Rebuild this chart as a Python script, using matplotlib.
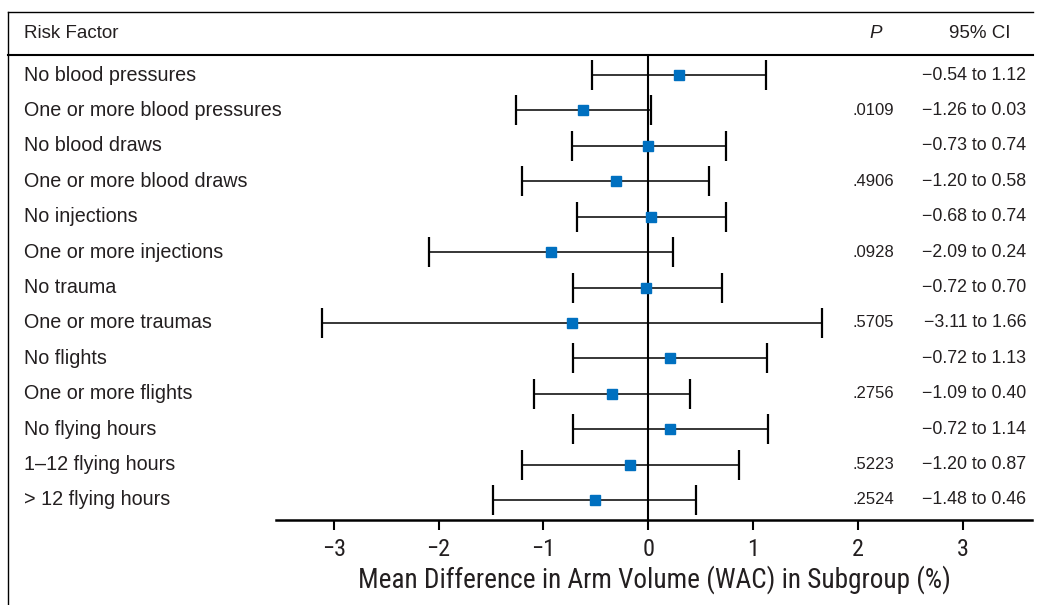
import matplotlib
matplotlib.use('Agg')
import matplotlib.pyplot as plt
from matplotlib import font_manager
from matplotlib.lines import Line2D
from matplotlib.transforms import blended_transform_factory
import numpy as np

plt.rcParams['font.family'] = ['Liberation Sans', 'DejaVu Sans']

# data
risk_factors = ['No blood pressures', 'One or more blood pressures',
                'No blood draws', 'One or more blood draws',
                'No injections', 'One or more injections',
                'No trauma', 'One or more traumas',
                'No flights', 'One or more flights',
                'No flying hours', '1\u201312 flying hours', '> 12 flying hours']
mean_diff = [0.29, -0.62, 0.00, -0.31, 0.03, -0.93, -0.02, -0.73,
             0.21, -0.35, 0.21, -0.17, -0.51]
ci_low = [-0.54, -1.26, -0.73, -1.20, -0.68, -2.09, -0.72, -3.11,
          -0.72, -1.09, -0.72, -1.20, -1.48]
ci_high = [1.12, 0.03, 0.74, 0.58, 0.74, 0.24, 0.70, 1.66,
           1.13, 0.40, 1.14, 0.87, 0.46]
p_values = ['', '.0109', '', '.4906', '', '.0928', '', '.5705',
            '', '.2756', '', '.5223', '.2524']
x_ticks = [-3, -2, -1, 0, 1, 2, 3]

# pick a narrow font for the axis if one is installed
installed = set((f.name, f.stretch) for f in font_manager.fontManager.ttflist)
installed_names = set(n for n, _ in installed)
narrow = dict(family='Roboto')
for cand in ['Liberation Sans Narrow', 'Roboto Condensed', 'Open Sans Condensed']:
    if cand in installed_names:
        narrow = dict(family=cand)
        break
else:
    if ('DejaVu Sans', 'condensed') in installed or ('DejaVu Sans', 'semi-condensed') in installed:
        narrow = dict(family='DejaVu Sans', stretch='condensed')

W, H = 1039, 605
fig = plt.figure(figsize=(W / 100, H / 100), dpi=100)
text_col = '#231f20'

ax_left, ax_right = 276 / W, 1032 / W
ax_top, ax_bot = 1 - 55 / H, 1 - 520 / H
ax = fig.add_axes([ax_left, ax_bot, ax_right - ax_left, ax_top - ax_bot])

y = np.arange(len(risk_factors))
mean_arr = np.array(mean_diff)
err = np.vstack([mean_arr - np.array(ci_low), np.array(ci_high) - mean_arr])

ax.axvline(0, color='black', lw=1.5, zorder=1)
ax.errorbar(mean_arr, y, xerr=err, fmt='none', ecolor='black',
            elinewidth=1.1, capsize=11, capthick=1.6, zorder=2)
ax.plot(mean_arr, y, 's', color='#0070c0', markersize=6.5, zorder=3)

ax.set_xlim(-3.55, 3.66)
ax.set_ylim(len(risk_factors) - 1 + 0.565, -0.565)
ax.set_yticks([])
ax.set_xticks(x_ticks)
ax.set_xticklabels(['\u2212%d' % -t if t < 0 else str(t) for t in x_ticks],
                   fontsize=17.5, color=text_col, **narrow)
ax.tick_params(axis='x', direction='out', length=7, width=1.5, pad=6)
for s in ['top', 'left', 'right']:
    ax.spines[s].set_visible(False)
ax.spines['bottom'].set_linewidth(1.8)
ax.patch.set_alpha(0)

xlab = ax.set_xlabel('Mean Difference in Arm Volume (WAC) in Subgroup (%)',
                     fontsize=19, color=text_col, labelpad=3, **narrow)

# fit the axis label to the width it has in the reference
fig.canvas.draw()
w = xlab.get_window_extent().width
if w > 0:
    xlab.set_fontsize(19 * 593 / w)

# table texts
tr = blended_transform_factory(fig.transFigure, ax.transData)
for i, name in enumerate(risk_factors):
    ax.text(24 / W, i, name, transform=tr, ha='left', va='center',
            fontsize=14.2, color=text_col, clip_on=False)
    if p_values[i]:
        ax.text(894 / W, i, p_values[i], transform=tr, ha='right', va='center',
                fontsize=12, color=text_col, clip_on=False)
    ci_txt = '\u2212%.2f to %.2f' % (-ci_low[i], ci_high[i])
    ax.text(1026 / W, i, ci_txt, transform=tr, ha='right', va='center',
            fontsize=12.8, color=text_col, clip_on=False)

# header
fig.text(24 / W, 1 - 33 / H, 'Risk Factor', ha='left', va='center',
         fontsize=13.5, color=text_col)
fig.text(876 / W, 1 - 33 / H, 'P', ha='center', va='center',
         fontsize=13.5, style='italic', color=text_col)
fig.text(980 / W, 1 - 33 / H, '95% CI', ha='center', va='center',
         fontsize=13.5, color=text_col)

# frame lines
fig.add_artist(Line2D([8 / W, 8 / W], [0, 1 - 12 / H], color='black', lw=1.0))
fig.add_artist(Line2D([8 / W, 1033 / W], [1 - 12 / H, 1 - 12 / H], color='black', lw=1.0))
fig.add_artist(Line2D([8 / W, 1033 / W], [1 - 55 / H, 1 - 55 / H], color='black', lw=1.5))

fig.savefig('out.png', dpi=100)
